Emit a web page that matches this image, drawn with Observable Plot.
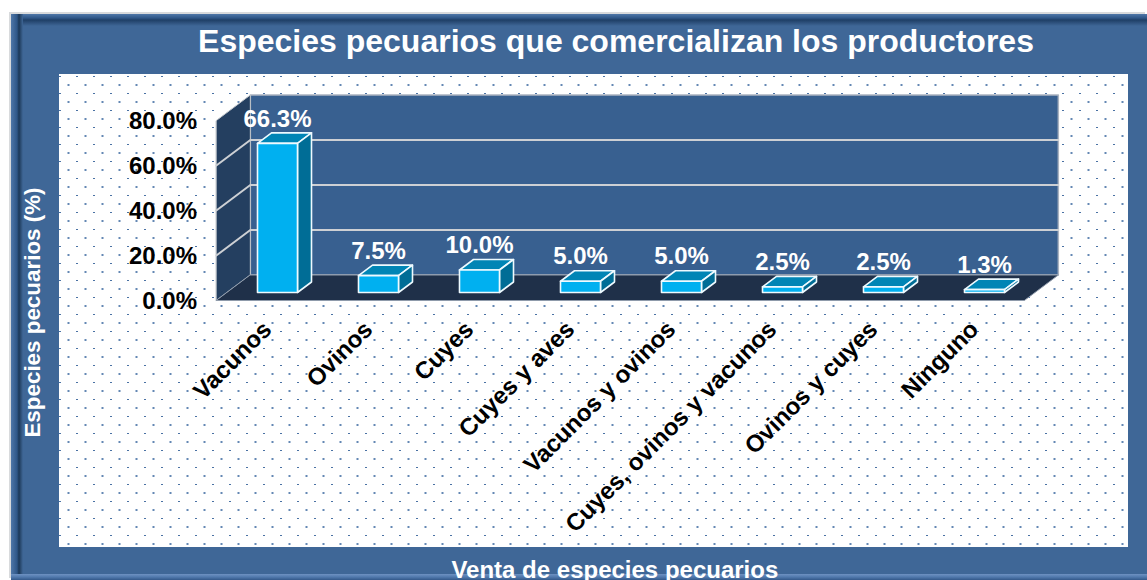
<!DOCTYPE html>
<html><head><meta charset="utf-8">
<script src="https://cdn.jsdelivr.net/npm/d3@7"></script>
<script src="https://cdn.jsdelivr.net/npm/@observablehq/plot@0.6"></script>
<style>
html,body{margin:0;padding:0;background:#fff;width:1147px;height:580px;overflow:hidden}
#frame{position:absolute;left:11px;top:14px;width:1136px;height:566px;box-sizing:border-box;background:#3f6797;
 box-shadow:-2px -2px 0 #d8dadc;}
#frame:before{content:"";position:absolute;left:0;top:0;right:0;height:12px;
 background:linear-gradient(#4f77a8 0,#2f5788 4px,#1f3f66 6px,#3f6797 12px)}
#left{position:absolute;left:0;top:0;bottom:0;width:12px;
 background:linear-gradient(90deg,#4f77a8 0,#2f5788 6px,#1c3857 8px,#3f6797 12px)}
#bottom{position:absolute;left:0;right:0;top:560px;height:6px;
 background:linear-gradient(#6e92c2 0,#5179ad 3px,#33598a 6px)}
#panel{position:absolute;left:59px;top:74px;width:1069px;height:473px;background-color:#fff;
 background-image:url("data:image/svg+xml,%3Csvg xmlns='http://www.w3.org/2000/svg' width='17' height='17'%3E%3Crect x='8.5' y='10' width='2' height='2' fill='%236488b4'/%3E%3Crect x='0' y='2' width='2' height='1' fill='%234a72a4'/%3E%3C/svg%3E");
 background-size:17px 17px}
#title{position:absolute;left:0;top:21px;width:1232px;text-align:center;margin:0;color:#fff;
 font:bold 32px "Liberation Sans",Arial,sans-serif;line-height:40px;white-space:nowrap}
#chart{position:absolute;left:0;top:0}
svg{background:transparent!important}
</style></head><body>
<div id="frame"><div id="left"></div><div id="bottom"></div></div>
<div id="panel"></div>
<h1 id="title">Especies pecuarios que comercializan los productores</h1>
<div id="chart"></div>
<script>
const categories = ["Vacunos","Ovinos","Cuyes","Cuyes y aves","Vacunos y ovinos","Cuyes, ovinos y vacunos","Ovinos y cuyes","Ninguno"];
const values = [66.3,7.5,10.0,5.0,5.0,2.5,2.5,1.3];
const yTicks = [0,20,40,60,80];
const xTitle = "Venta de especies pecuarios";
const yTitle = "Especies pecuarios (%)";

// oblique projection: depth d shifts a point in both category and value units
const DX = 34/101, DY = 25.5/2.25, D0 = -8/25.5, D1 = D0 + 1, BARD = 14/34, BARW = 20/101;
const iL = -0.5, iR = 7.5;
const P = (i,v,d) => ({x:i+d*DX, y:v+d*DY});
const poly = (pts,o) => Plot.line(pts,{x:"x",y:"y",curve:"linear-closed",...o});
const open = (pts,o) => Plot.line(pts,{x:"x",y:"y",...o});

const marks = [
  poly([P(iL,0,D1),P(iR,0,D1),P(iR,80,D1),P(iL,80,D1)],{fill:"#386090",stroke:"#aab3c0",strokeWidth:1.5}),
  poly([P(iL,0,D0),P(iL,0,D1),P(iL,80,D1),P(iL,80,D0)],{fill:"#243f60",stroke:"#c4c8cc",strokeWidth:1}),
  ...yTicks.slice(1,4).map(v => open([P(iL,v,D0),P(iL,v,D1),P(iR,v,D1)],{stroke:"#cdd0d4",strokeWidth:2})),
  poly([P(iL,0,D0),P(iR,0,D0),P(iR,0,D1),P(iL,0,D1)],{fill:"#1f3049",stroke:"#8f9bab",strokeWidth:1}),
];
values.forEach((v,k) => {
  const a=k-BARW, b=k+BARW, s={stroke:"#eefaff",strokeWidth:1.6};
  marks.push(
    poly([P(a,v,0),P(b,v,0),P(b,v,BARD),P(a,v,BARD)],{fill:"#0085b5",...s}),
    poly([P(b,0,0),P(b,0,BARD),P(b,v,BARD),P(b,v,0)],{fill:"#006d96",...s}),
    poly([P(a,0,0),P(b,0,0),P(b,v,0),P(a,v,0)],{fill:"#00b0f0",...s})
  );
});
const font = {fontFamily:"'Liberation Sans',Arial,sans-serif",fontWeight:"bold"};
marks.push(
  Plot.text(values,{x:(d,k)=>k,y:d=>d+BARD*DY,text:d=>d.toFixed(1)+"%",dy:-14,fill:"#fff",fontSize:24,...font}),
  Plot.axisY({ticks:yTicks,tickSize:0,tickPadding:30,dy:9,tickFormat:d=>d.toFixed(1)+"%",label:null,fill:"#000",fontSize:24,...font}),
  Plot.axisX({ticks:d3.range(categories.length),tickFormat:d=>categories[d],tickSize:0,tickRotate:-45,tickPadding:20,dx:-10,dy:13,label:null,fill:"#000",fontSize:24,...font}),
  Plot.text([yTitle],{x:[-2.426],y:[-8.9],text:d=>d,rotate:-90,fill:"#fff",fontSize:22.4,...font}),
  Plot.text([xTitle],{x:[3.34],y:[-123.5],text:d=>d,fill:"#fff",fontSize:24,...font})
);
const chart = Plot.plot({
  width:1147,height:580,marginLeft:226.5,marginRight:112.5,marginTop:112,marginBottom:288,
  x:{type:"linear",domain:[iL,iR]},
  y:{type:"linear",domain:[0,80]},
  style:{background:"transparent",overflow:"hidden"},
  marks
});
document.getElementById("chart").append(chart);
</script>
</body></html>
